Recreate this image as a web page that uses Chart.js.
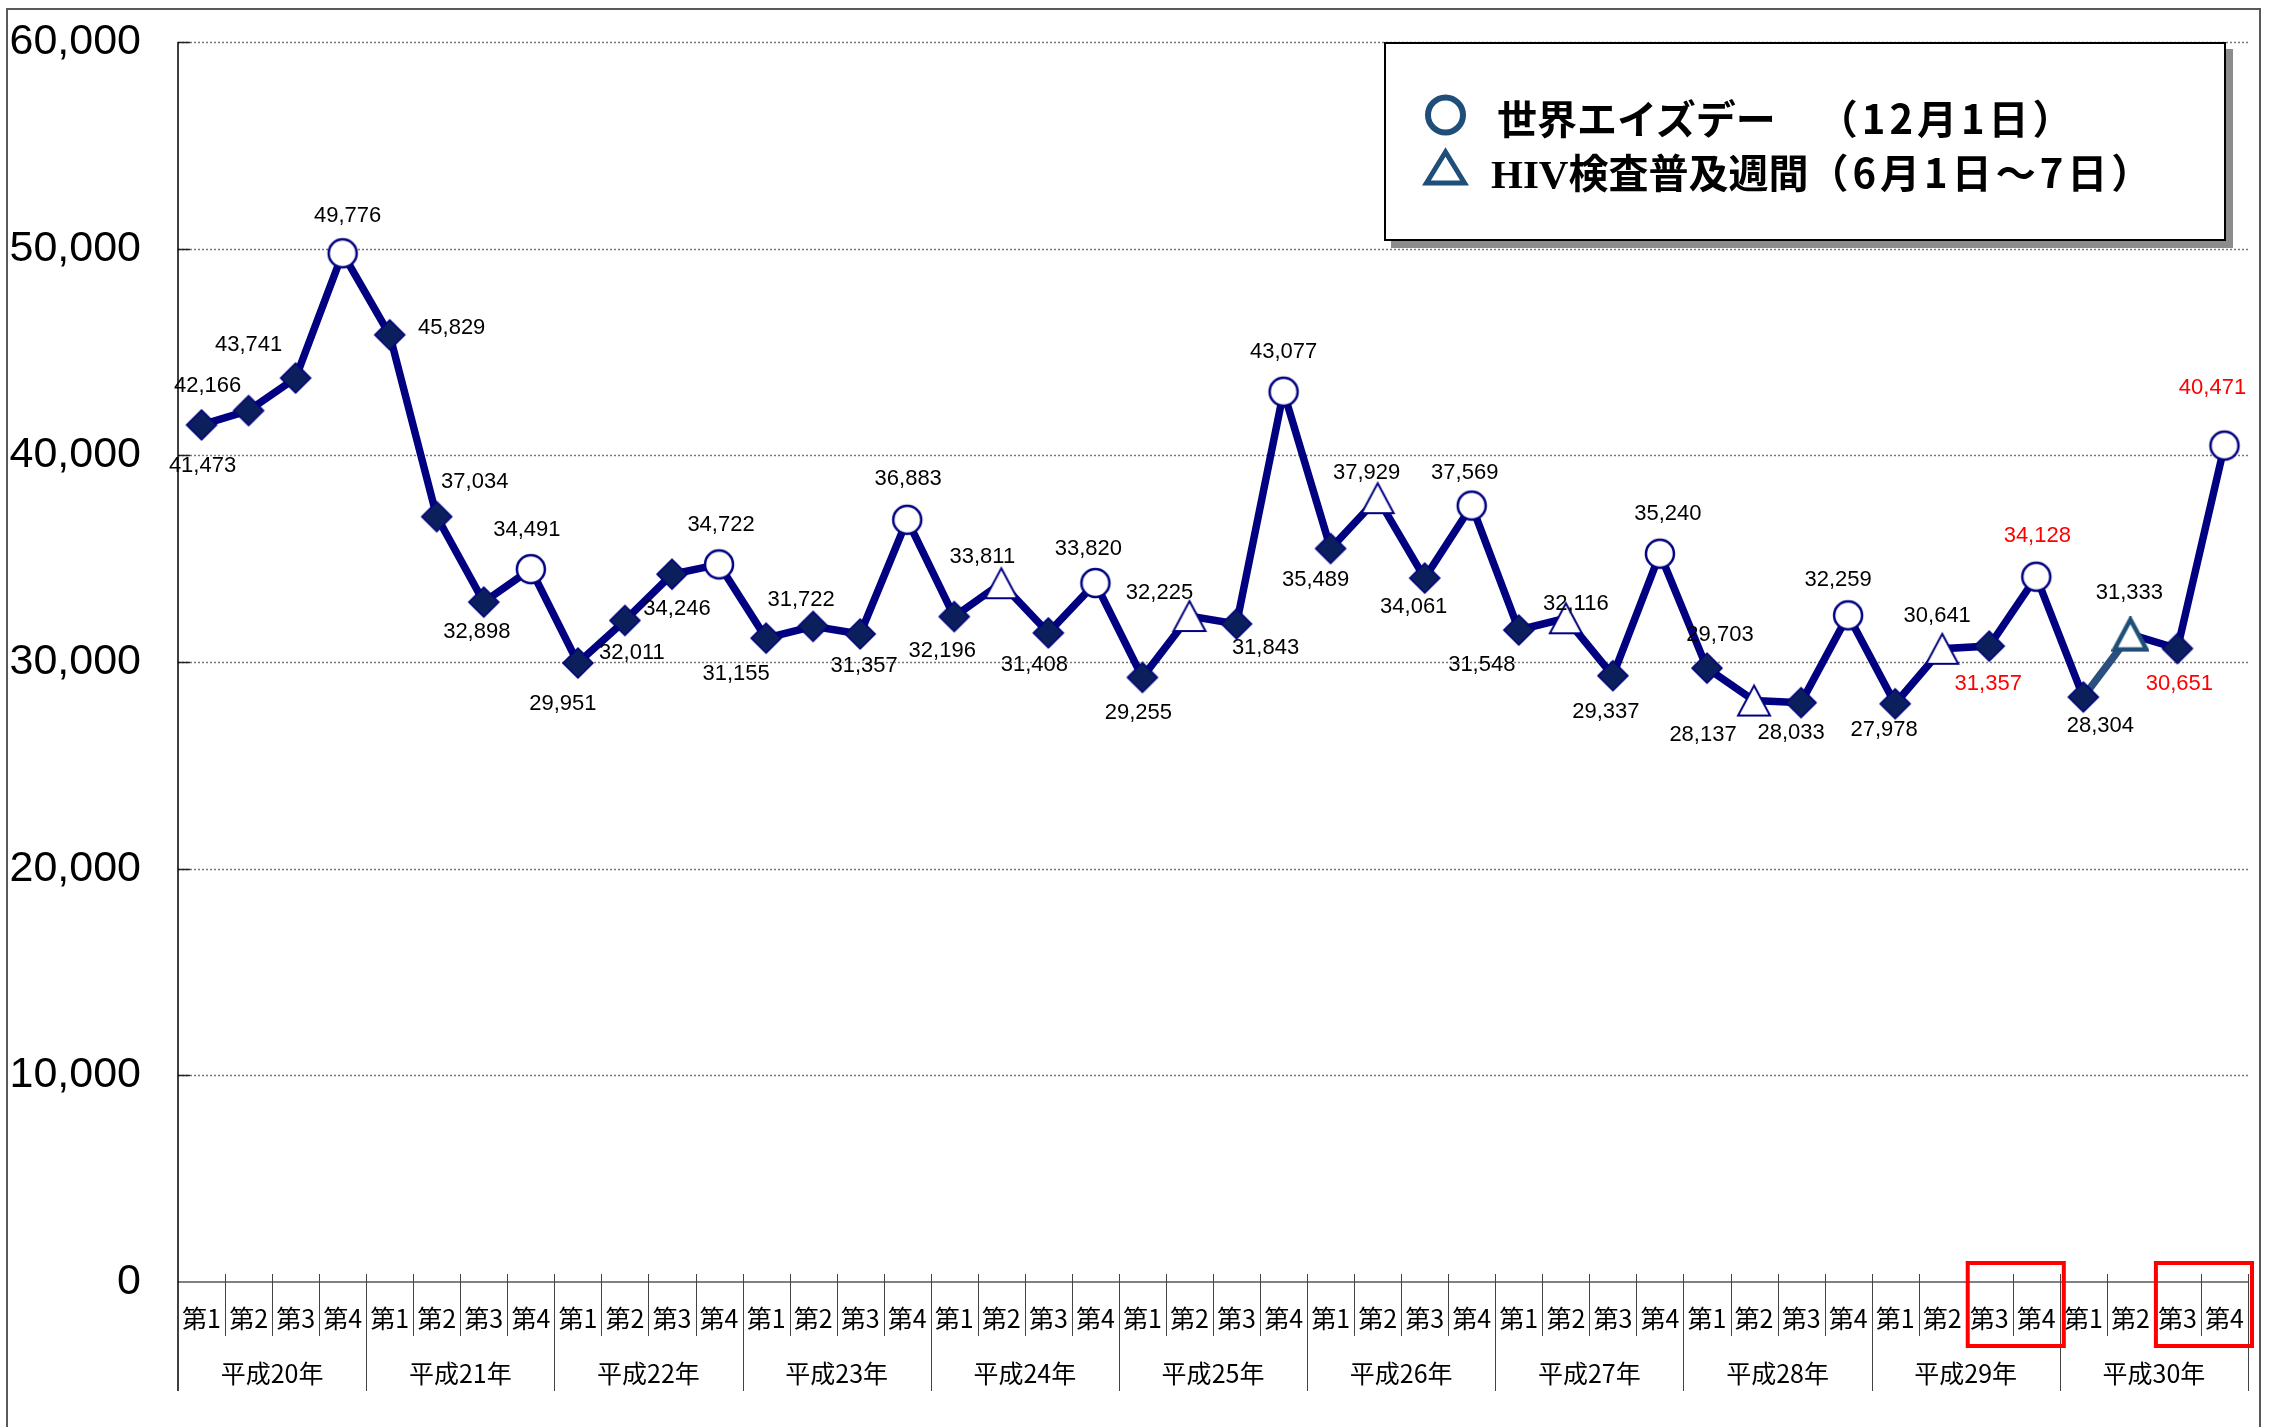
<!DOCTYPE html>
<html>
<head>
  <meta charset="utf-8">
  <title>HIV検査件数 四半期推移</title>
  <script src="https://cdn.jsdelivr.net/npm/chart.js"></script>
  <style>
    body { margin: 0; background: #fff; }
    #wrap { position: relative; width: 2274px; height: 1427px; }
    #legend {
      position: absolute; left: 1384px; top: 42px; width: 842px; height: 199px;
      box-sizing: border-box; border: 2px solid #000; background: #fff;
      box-shadow: 7px 7px 0 #8c8c8c;
      font-family: "Noto Sans CJK JP", sans-serif; font-weight: bold; font-size: 40px; color: #000;
    }
    #legend .row { position: absolute; white-space: nowrap; line-height: 40px; height: 40px; }
    #legend .serif { font-family: "Liberation Serif", serif; font-size: 41px; }
    #legend .wide { letter-spacing: 4px; }
    #legend svg { position: absolute; left: 0; top: 0; }
  </style>
</head>
<body>
<div id="wrap">
  <canvas id="myChart"></canvas>
  <div id="legend">
    <svg width="840" height="195">
      <circle cx="59.5" cy="71" r="17.5" fill="none" stroke="#1F4E79" stroke-width="6"/>
      <polygon points="59.5,108 40.5,139 78.5,139" fill="none" stroke="#1F4E79" stroke-width="5" stroke-linejoin="miter"/>
    </svg>
    <div class="row" style="left:111px; top:53px;">世界エイズデー　<span style="margin-left:22px" class="wide">（12月1日）</span></div>
    <div class="row" style="left:105px; top:107px;"><span class="serif">HIV</span>検査普及週間<span class="wide">（6月1日～7日）</span></div>
  </div>
</div>

<script>
// 年度・四半期
const years = ['平成20年', '平成21年', '平成22年', '平成23年', '平成24年', '平成25年',
               '平成26年', '平成27年', '平成28年', '平成29年', '平成30年'];
const quarters = ['第1', '第2', '第3', '第4'];

// グラフ上の位置（件数）
const counts = [41473, 42166, 43741, 49776,  45829, 37034, 32898, 34491,
                29951, 32011, 34246, 34722,  31155, 31722, 31357, 36883,
                32196, 33811, 31408, 33820,  29255, 32225, 31843, 43077,
                35489, 37929, 34061, 37569,  31548, 32116, 29337, 35240,
                29703, 28137, 28033, 32259,  27978, 30641, 30770, 34128,
                28304, 31333, 30651, 40471];

// 表示されている数値ラベル（平成29年第3はグラフ位置と異なる）
const shownValues = [41473, 42166, 43741, 49776,  45829, 37034, 32898, 34491,
                     29951, 32011, 34246, 34722,  31155, 31722, 31357, 36883,
                     32196, 33811, 31408, 33820,  29255, 32225, 31843, 43077,
                     35489, 37929, 34061, 37569,  31548, 32116, 29337, 35240,
                     29703, 28137, 28033, 32259,  27978, 30641, 31357, 34128,
                     28304, 31333, 30651, 40471];

// マーカー: d=通常, c=世界エイズデー, t=HIV検査普及週間
const markers = ['d','d','d','c', 'd','d','d','c', 'd','d','d','c', 'd','d','d','c',
                 'd','t','d','c', 'd','t','d','c', 'd','t','d','c', 'd','t','d','c',
                 'd','t','d','c', 'd','t','d','c', 'd','t','d','c'];

const redLabels = [38, 39, 42, 43];
const redBoxes = [[38, 39], [42, 43]];

// ラベルの位置ずらし (px)
const labelDx = [1, -41, -47, 5, 62, 38, -7, -4, -15, 7, 5, 2, -30, -12, 4, 1,
                 -12, -19, -14, -7, -4, -30, 29, 0, -15, -11, -11, -7, -37, 10, -7, 8,
                 13, -51, -10, -10, -11, -5, -1, 1, 17, -1, 2, -12];
const labelDy = [41, -25, -33, -37, -7, -35, 30, -39, 41, 32, 35, -39, 36, -26, 32, -41,
                 34, -26, 32, -34, 36, -23, 24, -40, 31, -25, 29, -33, 35, -14, 36, -40,
                 -33, 34, 30, -35, 26, -33, 38, -41, 29, -42, 35, -58];

const labels = [];
years.forEach(y => quarters.forEach(q => labels.push(q)));

// マーカー画像
function makeMarker(kind, special) {
  const c = document.createElement('canvas');
  const ctx = c.getContext('2d');
  if (kind === 'd') {
    c.width = 34; c.height = 34;
    ctx.beginPath();
    ctx.moveTo(17, 2); ctx.lineTo(32, 17); ctx.lineTo(17, 32); ctx.lineTo(2, 17); ctx.closePath();
    ctx.fillStyle = '#0B1F5C'; ctx.fill();
    ctx.strokeStyle = '#000080'; ctx.lineWidth = 1.5; ctx.stroke();
  } else if (kind === 'c') {
    c.width = 34; c.height = 34;
    ctx.beginPath();
    ctx.arc(17, 17, 14, 0, Math.PI * 2);
    ctx.fillStyle = '#fff'; ctx.fill();
    ctx.strokeStyle = '#000080'; ctx.lineWidth = 2.5; ctx.stroke();
  } else {
    c.width = 38; c.height = 36;
    ctx.beginPath();
    ctx.moveTo(19, 3); ctx.lineTo(35, 33); ctx.lineTo(3, 33); ctx.closePath();
    ctx.fillStyle = '#fff'; ctx.fill();
    ctx.strokeStyle = special ? '#1F4E79' : '#000080';
    ctx.lineWidth = special ? 4.5 : 2;
    ctx.stroke();
  }
  return c;
}
const pointImages = markers.map((m, i) => makeMarker(m, i === 41));

const fmt = v => v.toLocaleString('en-US');

const decorPlugin = {
  id: 'decor',
  beforeDatasetsDraw(chart) {
    const ctx = chart.ctx;
    const a = chart.chartArea;
    const yS = chart.scales.y;
    ctx.save();
    // 目盛り線
    for (let v = 10000; v <= 60000; v += 10000) {
      const py = Math.round(yS.getPixelForValue(v)) + 0.5;
      ctx.strokeStyle = '#777';
      ctx.lineWidth = 1.5;
      ctx.setLineDash([2, 2]);
      ctx.beginPath(); ctx.moveTo(a.left, py); ctx.lineTo(a.right, py); ctx.stroke();
      ctx.setLineDash([]);
      ctx.strokeStyle = '#222';
      ctx.lineWidth = 1.5;
      ctx.beginPath(); ctx.moveTo(a.left, py); ctx.lineTo(a.left + 12, py); ctx.stroke();
    }
    ctx.restore();
  },
  afterDatasetsDraw(chart) {
    const ctx = chart.ctx;
    const a = chart.chartArea;
    const xS = chart.scales.x;
    const meta = chart.getDatasetMeta(0);
    const cw = (a.right - a.left) / labels.length;
    ctx.save();

    // 外枠
    ctx.strokeStyle = '#595959';
    ctx.lineWidth = 2;
    ctx.beginPath();
    ctx.moveTo(7, 1427); ctx.lineTo(7, 9); ctx.lineTo(2260, 9); ctx.lineTo(2260, 1427);
    ctx.stroke();

    // ゼロ線と縦軸
    ctx.strokeStyle = '#808080';
    ctx.lineWidth = 2;
    ctx.beginPath(); ctx.moveTo(a.left, a.bottom); ctx.lineTo(a.right, a.bottom); ctx.stroke();
    ctx.strokeStyle = '#000';
    ctx.lineWidth = 1.5;
    ctx.beginPath(); ctx.moveTo(a.left, a.top); ctx.lineTo(a.left, a.bottom + 109); ctx.stroke();

    // 区切り線
    ctx.strokeStyle = '#444';
    ctx.lineWidth = 1;
    for (let i = 1; i <= labels.length; i++) {
      const bx = Math.round(xS.getPixelForValue(i - 1) + cw / 2) + 0.5;
      const yearEdge = i % 4 === 0;
      ctx.beginPath();
      ctx.moveTo(bx, a.bottom - 8);
      ctx.lineTo(bx, a.bottom + (yearEdge ? 109 : 54));
      ctx.stroke();
    }

    // 四半期ラベル
    ctx.fillStyle = '#000';
    ctx.textAlign = 'center';
    ctx.textBaseline = 'middle';
    ctx.font = '25px "Noto Sans CJK JP"';
    labels.forEach((q, i) => {
      ctx.fillText(q, xS.getPixelForValue(i), a.bottom + 36);
    });
    // 年ラベル
    years.forEach((y, k) => {
      const cx = (xS.getPixelForValue(k * 4) + xS.getPixelForValue(k * 4 + 3)) / 2;
      ctx.fillText(y, cx, a.bottom + 91);
    });

    // 赤枠
    ctx.strokeStyle = '#FF0000';
    ctx.lineWidth = 4;
    redBoxes.forEach(([s, e]) => {
      const x0 = xS.getPixelForValue(s) - cw / 2 + 2;
      const x1 = xS.getPixelForValue(e) + cw / 2 + 4;
      ctx.strokeRect(x0, a.bottom - 19, x1 - x0, 83);
    });

    // 数値ラベル
    ctx.font = '22px "Liberation Sans"';
    meta.data.forEach((pt, i) => {
      ctx.fillStyle = redLabels.includes(i) ? '#FF0000' : '#000';
      ctx.fillText(fmt(shownValues[i]), pt.x + labelDx[i], pt.y + labelDy[i]);
    });
    ctx.restore();
  }
};

new Chart(document.getElementById('myChart'), {
  type: 'line',
  data: {
    labels: labels,
    datasets: [{
      data: counts,
      borderColor: '#000080',
      borderWidth: 7.5,
      tension: 0,
      pointStyle: pointImages,
      pointRadius: 15,
      segment: {
        borderColor: c => c.p1DataIndex === 41 ? '#2B4F7E' : undefined
      }
    }]
  },
  options: {
    responsive: true,
    maintainAspectRatio: false,
    animation: false,
    events: [],
    layout: { padding: { left: 0, right: 26, top: 42, bottom: 145 } },
    plugins: { legend: { display: false }, tooltip: { enabled: false } },
    scales: {
      x: { display: false, offset: true },
      y: {
        min: 0, max: 60000,
        afterFit: s => { s.width = 178; s.paddingTop = 0; s.paddingBottom = 0; },
        grid: { display: false, drawTicks: false },
        border: { display: false },
        ticks: {
          stepSize: 10000,
          padding: 37,
          color: '#000',
          font: { family: 'Liberation Sans', size: 43 },
          callback: v => fmt(v)
        }
      }
    }
  },
  plugins: [decorPlugin]
});
</script>
</body>
</html>
